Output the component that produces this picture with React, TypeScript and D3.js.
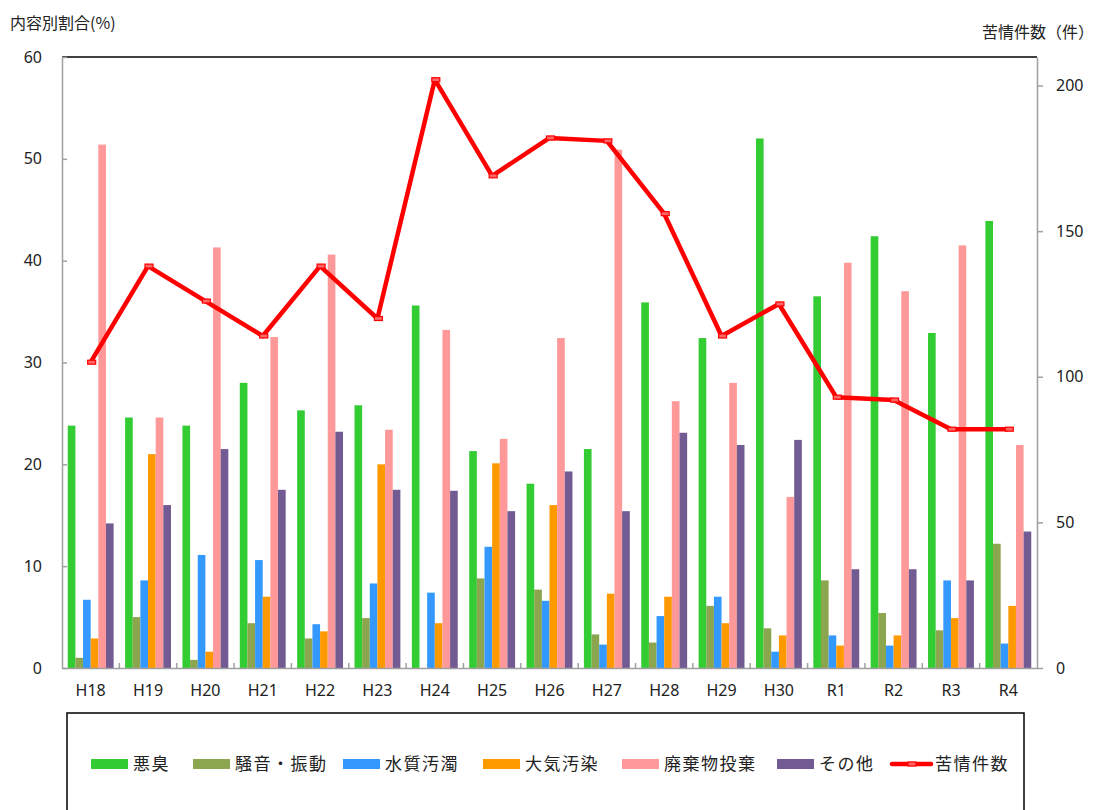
import React, { useEffect, useRef } from 'react';
import * as d3 from 'd3';

const categories = ['H18', 'H19', 'H20', 'H21', 'H22', 'H23', 'H24', 'H25', 'H26', 'H27', 'H28', 'H29', 'H30', 'R1', 'R2', 'R3', 'R4'];

const seriesNames = ['悪臭', '騒音・振動', '水質汚濁', '大気汚染', '廃棄物投棄', 'その他'];
const seriesColors = ['#33cc33', '#8ba64e', '#3399ff', '#ff9900', '#ff9999', '#725a92'];

const odor = [23.8, 24.6, 23.8, 28.0, 25.3, 25.8, 35.6, 21.3, 18.1, 21.5, 35.9, 32.4, 52.0, 36.5, 42.4, 32.9, 43.9];
const noise = [1.0, 5.0, 0.8, 4.4, 2.9, 4.9, 0, 8.8, 7.7, 3.3, 2.5, 6.1, 3.9, 8.6, 5.4, 3.7, 12.2];
const water = [6.7, 8.6, 11.1, 10.6, 4.3, 8.3, 7.4, 11.9, 6.6, 2.3, 5.1, 7.0, 1.6, 3.2, 2.2, 8.6, 2.4];
const air = [2.9, 21.0, 1.6, 7.0, 3.6, 20.0, 4.4, 20.1, 16.0, 7.3, 7.0, 4.4, 3.2, 2.2, 3.2, 4.9, 6.1];
const waste = [51.4, 24.6, 41.3, 32.5, 40.6, 23.4, 33.2, 22.5, 32.4, 50.9, 26.2, 28.0, 16.8, 39.8, 37.0, 41.5, 21.9];
const other = [14.2, 16.0, 21.5, 17.5, 23.2, 17.5, 17.4, 15.4, 19.3, 15.4, 23.1, 21.9, 22.4, 9.7, 9.7, 8.6, 13.4];

const complaints = [105, 138, 126, 114, 138, 120, 202, 169, 182, 181, 156, 114, 125, 93, 92, 82, 82];

const leftTicks = [0, 10, 20, 30, 40, 50, 60];
const rightTicks = [0, 50, 100, 150, 200];

const FONT = "'Noto Sans', 'Noto Sans CJK JP', sans-serif";
const JP_FONT = "'Noto Sans CJK JP', sans-serif";

const App: React.FC = () => {
  const svgRef = useRef<SVGSVGElement>(null);

  useEffect(() => {
    if (!svgRef.current) return;
    const svg = d3.select(svgRef.current).html('');

    const plot = { left: 62, right: 1037, top: 57, bottom: 668 };
    const series = [odor, noise, water, air, waste, other];

    const x0 = d3.scaleBand<string>()
      .domain(categories)
      .range([plot.left, plot.right])
      .paddingInner(0.2)
      .paddingOuter(0.1);

    const x1 = d3.scaleBand<number>()
      .domain(d3.range(series.length))
      .range([0, x0.bandwidth()])
      .padding(0);

    const yLeft = d3.scaleLinear().domain([0, 60]).range([plot.bottom, plot.top]);
    const yRight = d3.scaleLinear().domain([0, 209.8]).range([plot.bottom, plot.top]);

    // bars
    series.forEach((vals, si) => {
      svg.append('g')
        .selectAll('rect')
        .data(vals)
        .join('rect')
        .attr('x', (_, i) => (x0(categories[i]) as number) + (x1(si) as number))
        .attr('y', d => yLeft(d))
        .attr('width', x1.bandwidth())
        .attr('height', d => plot.bottom - yLeft(d))
        .attr('fill', seriesColors[si]);
    });

    // top border
    svg.append('line')
      .attr('x1', plot.left).attr('x2', plot.right)
      .attr('y1', plot.top).attr('y2', plot.top)
      .attr('stroke', '#000').attr('stroke-width', 1.5);

    // left axis (ticks inside)
    const leftAxis = svg.append('g')
      .attr('transform', `translate(${plot.left},0)`)
      .call(d3.axisLeft(yLeft).tickValues(leftTicks).tickSizeInner(-5).tickSizeOuter(0).tickPadding(20));
    leftAxis.select('.domain').attr('stroke', '#a0a0a0').attr('stroke-width', 1.5);
    leftAxis.selectAll('.tick line').attr('stroke', '#a0a0a0').attr('stroke-width', 1.5);
    leftAxis.selectAll('.tick text')
      .attr('font-family', FONT).attr('font-size', 16).attr('fill', '#222');

    // right axis (ticks outside)
    const rightAxis = svg.append('g')
      .attr('transform', `translate(${plot.right},0)`)
      .call(d3.axisRight(yRight).tickValues(rightTicks).tickSizeInner(6).tickSizeOuter(0).tickPadding(13));
    rightAxis.select('.domain').attr('stroke', '#a0a0a0').attr('stroke-width', 1.5);
    rightAxis.selectAll('.tick line').attr('stroke', '#a0a0a0').attr('stroke-width', 1.5);
    rightAxis.selectAll('.tick text')
      .attr('font-family', FONT).attr('font-size', 16).attr('fill', '#222');

    // bottom axis: labels centred, small ticks between groups
    const bottomAxis = svg.append('g')
      .attr('transform', `translate(0,${plot.bottom})`)
      .call(d3.axisBottom(x0).tickSize(0).tickPadding(17));
    bottomAxis.select('.domain').attr('stroke', '#a0a0a0').attr('stroke-width', 1.5);
    bottomAxis.selectAll('.tick text')
      .attr('font-family', FONT).attr('font-size', 16).attr('fill', '#222');

    const step = x0.step();
    svg.append('g')
      .selectAll('line')
      .data(categories.slice(1))
      .join('line')
      .attr('x1', d => (x0(d) as number) - step * 0.1)
      .attr('x2', d => (x0(d) as number) - step * 0.1)
      .attr('y1', plot.bottom)
      .attr('y2', plot.bottom - 5)
      .attr('stroke', '#a0a0a0')
      .attr('stroke-width', 1.5);

    // complaints line
    const cx = (i: number) => (x0(categories[i]) as number) + x0.bandwidth() / 2;
    const line = d3.line<number>()
      .x((_, i) => cx(i))
      .y(d => yRight(d));

    svg.append('path')
      .datum(complaints)
      .attr('fill', 'none')
      .attr('stroke', '#ff0000')
      .attr('stroke-width', 4.5)
      .attr('stroke-linejoin', 'round')
      .attr('d', line);

    svg.append('g')
      .selectAll('rect')
      .data(complaints)
      .join('rect')
      .attr('x', (_, i) => cx(i) - 3)
      .attr('y', d => yRight(d) - 2)
      .attr('width', 8)
      .attr('height', 4)
      .attr('fill', '#ff6666')
      .attr('stroke', '#ff0000')
      .attr('stroke-width', 1.2);

    // axis titles
    svg.append('text')
      .attr('x', 10).attr('y', 29)
      .attr('font-family', JP_FONT).attr('font-size', 16).attr('fill', '#222')
      .text('内容別割合(%)');

    svg.append('text')
      .attr('x', 1094).attr('y', 38)
      .attr('text-anchor', 'end')
      .attr('font-family', JP_FONT).attr('font-size', 16)
      .attr('fill', '#222')
      .text('苦情件数（件）');

    // legend
    svg.append('rect')
      .attr('x', 67).attr('y', 713)
      .attr('width', 957).attr('height', 120)
      .attr('fill', 'none')
      .attr('stroke', '#000')
      .attr('stroke-width', 1.5);

    const legendX = [91, 193, 343, 483, 622, 777, 892];
    const legendNames = [...seriesNames, '苦情件数'];
    const legend = svg.append('g');
    legendNames.forEach((name, i) => {
      const lx = legendX[i];
      if (i < seriesNames.length) {
        legend.append('rect')
          .attr('x', lx).attr('y', 759)
          .attr('width', 37).attr('height', 10)
          .attr('fill', seriesColors[i]);
      } else {
        legend.append('line')
          .attr('x1', lx).attr('x2', lx + 39)
          .attr('y1', 764).attr('y2', 764)
          .attr('stroke', '#ff0000').attr('stroke-width', 4.5)
          .attr('stroke-linecap', 'round');
        legend.append('rect')
          .attr('x', lx + 16).attr('y', 762).attr('width', 8).attr('height', 4)
          .attr('fill', '#ff6666').attr('stroke', '#ff0000').attr('stroke-width', 1.2);
      }
      legend.append('text')
        .attr('x', lx + (i < seriesNames.length ? 42 : 43))
        .attr('y', 770)
        .attr('font-family', JP_FONT)
        .attr('font-size', 17)
        .attr('letter-spacing', 1.5)
        .attr('fill', '#222')
        .text(name);
    });
  }, []);

  return (
    <svg
      ref={svgRef}
      width={1096}
      height={810}
      style={{ position: 'absolute', left: 0, top: 0, background: '#fff' }}
    ></svg>
  );
};

export default App;
